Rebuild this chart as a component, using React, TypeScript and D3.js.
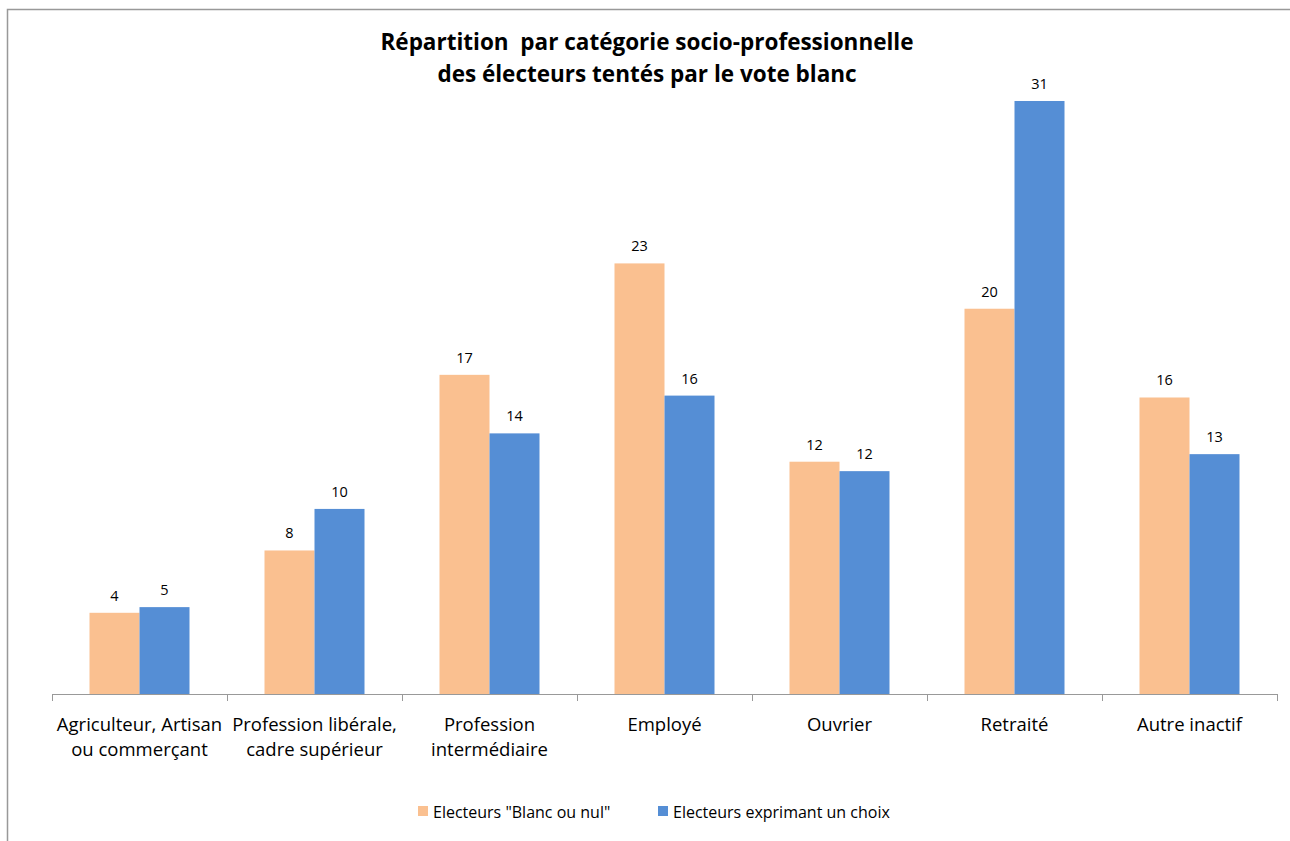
import React from "react";
import * as d3 from "d3";

const categories = [
  ["Agriculteur, Artisan", "ou commerçant"],
  ["Profession libérale,", "cadre supérieur"],
  ["Profession", "intermédiaire"],
  ["Employé"],
  ["Ouvrier"],
  ["Retraité"],
  ["Autre inactif"],
];
const seriesNames = ['Electeurs "Blanc ou nul"', "Electeurs exprimant un choix"];
const blancOuNul = [4.3, 7.6, 16.9, 22.8, 12.3, 20.4, 15.7];
const exprimant = [4.6, 9.8, 13.8, 15.8, 11.8, 31.4, 12.7];
const colors = ["#FAC090", "#558ED5"];
const titleLines = [
  "Répartition  par catégorie socio-professionnelle",
  "des électeurs tentés par le vote blanc",
];

const W = 1290;
const H = 841;
const FONT = "'Open Sans', 'Noto Sans', sans-serif";

export default function App() {
  const x0 = d3
    .scaleBand<number>()
    .domain(d3.range(categories.length))
    .range([52, 1277])
    .paddingInner(0)
    .paddingOuter(0);
  const x1 = d3.scaleBand<number>().domain([0, 1]).range([0, 100]);
  const y = d3.scaleLinear().domain([0, 35]).range([694, 33]);
  const series = [blancOuNul, exprimant];
  const fmt = d3.format(".0f");
  const bw = x0.bandwidth();

  return (
    <div style={{ position: "absolute", left: 0, top: 0, width: W, height: H, background: "#fff" }}>
      <svg width={W} height={H} style={{ display: "block" }}>
        <rect x={7.5} y={9.5} width={W + 20} height={H + 20} fill="#fff" stroke="#999" strokeWidth={1.5} />
        {titleLines.map((t, i) => (
          <text
            key={i}
            x={647}
            y={50 + i * 32}
            textAnchor="middle"
            fontFamily={FONT}
            fontWeight="bold"
            fontSize={22.5}
            fill="#000"
            style={{ whiteSpace: "pre" }}
          >
            {t}
          </text>
        ))}
        {series.map((vals, s) =>
          vals.map((v, i) => {
            const bx = (x0(i) as number) + bw / 2 - 50 + (x1(s) as number);
            return (
              <g key={`${s}-${i}`}>
                <rect x={bx} y={y(v)} width={x1.bandwidth()} height={y(0) - y(v)} fill={colors[s]} />
                <text
                  x={bx + x1.bandwidth() / 2}
                  y={y(v) - 12}
                  textAnchor="middle"
                  fontFamily={FONT}
                  fontSize={14.5}
                  fill="#000"
                >
                  {fmt(v)}
                </text>
              </g>
            );
          })
        )}
        <line x1={52} x2={1277} y1={694.5} y2={694.5} stroke="#999" strokeWidth={1} />
        {d3.range(categories.length + 1).map((i) => {
          const tx = Math.round(52 + i * bw) + 0.5;
          return <line key={i} x1={tx} x2={tx} y1={694} y2={701} stroke="#999" strokeWidth={1} />;
        })}
        {categories.map((lines, i) => (
          <text
            key={i}
            x={(x0(i) as number) + bw / 2}
            y={731}
            textAnchor="middle"
            fontFamily={FONT}
            fontSize={18.5}
            fill="#000"
          >
            {lines.map((l, j) => (
              <tspan key={j} x={(x0(i) as number) + bw / 2} dy={j === 0 ? 0 : 25}>
                {l}
              </tspan>
            ))}
          </text>
        ))}
        {seriesNames.map((n, s) => {
          const lx = s === 0 ? 418 : 658;
          return (
            <g key={s}>
              <rect x={lx} y={806} width={10} height={10} fill={colors[s]} />
              <text x={lx + 15} y={818} fontFamily={FONT} fontSize={16} fill="#000">
                {n}
              </text>
            </g>
          );
        })}
      </svg>
    </div>
  );
}
